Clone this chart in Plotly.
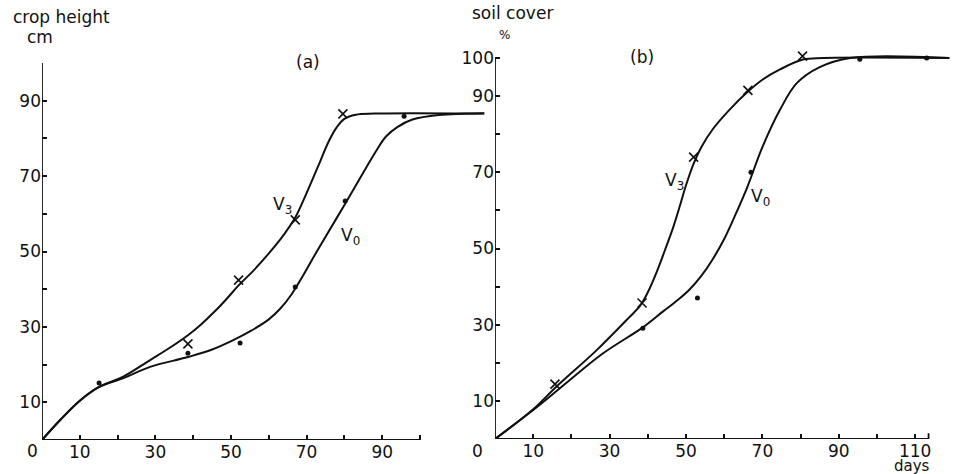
import plotly.graph_objects as go

W, H = 954, 474

# ---------------- data (days, value) ----------------
# panel (a) crop height, cm
A_V3_CURVE_DAY = [0, 5, 10, 15, 21.5, 28.6, 34, 38.6, 42, 46, 49, 52, 56, 60, 64, 67, 70, 73, 76, 78, 80, 83, 88, 117]
A_V3_CURVE_VAL = [0, 5.5, 10.4, 14, 16.8, 21.2, 24.6, 27.8, 30.6, 34.4, 37.6, 41, 45, 49.5, 54.5, 59, 65.5, 72.5, 79.5, 83, 85.2, 86.3, 86.6, 86.6]
A_V0_CURVE_DAY = [0, 5, 10, 15, 21.5, 28.6, 38.6, 45, 50.6, 55, 60, 63, 66, 69, 72.7, 80.4, 88.6, 91, 94, 98, 105, 117]
A_V0_CURVE_VAL = [0, 5.5, 10.4, 14, 16.4, 19.4, 22, 24, 26.5, 28.8, 32, 34.8, 38.6, 43.5, 50, 63, 77, 80.5, 83, 85, 86.2, 86.7]
A_V3_OBS_DAY = [38.6, 52, 67, 79.6]
A_V3_OBS_VAL = [25.5, 42.4, 58.4, 86.5]
A_V0_OBS_DAY = [15.1, 38.6, 52.4, 67, 80.2, 95.8]
A_V0_OBS_VAL = [15.1, 23, 25.7, 40.6, 63.4, 85.9]

# panel (b) soil cover, %
B_V3_CURVE_DAY = [0, 10, 15.7, 26.7, 35, 38, 40, 42.4, 44.5, 46.6, 48.4, 50, 52, 54, 57, 61, 66, 70, 74.6, 80.6, 86, 119]
B_V3_CURVE_VAL = [0, 7.8, 13.4, 23.4, 31.8, 35, 38.5, 44, 49.6, 55.4, 61.2, 66.6, 72.3, 76.6, 81.3, 86, 91, 94.3, 97, 99.6, 100, 100]
B_V0_CURVE_DAY = [0, 11, 19.6, 28.3, 38.7, 44, 48, 51, 54, 57, 60, 63, 66, 70, 74.6, 79, 85, 93, 119]
B_V0_CURVE_VAL = [0, 8.4, 15.5, 22.5, 29.3, 33.5, 36.6, 39.3, 42.8, 47.2, 52.5, 59, 66, 76.6, 86.4, 93.4, 97.6, 100, 100]
B_V3_OBS_DAY = [15.7, 38.5, 52, 66.2, 80.5]
B_V3_OBS_VAL = [14.4, 35.7, 74, 91.5, 100.5]
B_V0_OBS_DAY = [38.7, 53, 67, 95.5, 113]
B_V0_OBS_VAL = [29.1, 37, 70, 99.7, 100]

A_XTICKS = [10, 20, 30, 40, 50, 60, 70, 80, 90, 100]
A_XLABELS = ["10", "", "30", "", "50", "", "70", "", "90", ""]
A_YTICKS = [10, 20, 30, 40, 50, 60, 70, 80, 90]
A_YLABELS = ["10", "", "30", "", "50", "", "70", "", "90"]
B_XTICKS = [10, 20, 30, 40, 50, 60, 70, 80, 90, 100, 110]
B_XLABELS = ["10", "", "30", "", "50", "", "70", "", "90", "", "110"]
B_YTICKS = [10, 20, 30, 40, 50, 60, 70, 80, 90, 100]
B_YLABELS = ["10", "", "30", "", "50", "", "70", "", "90", "100"]

FONT = "DejaVu Sans"
BLACK = "#111111"


def px(x):
    return x / W


def py(y):
    return 1 - y / H


fig = go.Figure()

for xs, ys, xa, ya in [
    (A_V3_CURVE_DAY, A_V3_CURVE_VAL, "x", "y"),
    (A_V0_CURVE_DAY, A_V0_CURVE_VAL, "x", "y"),
    (B_V3_CURVE_DAY, B_V3_CURVE_VAL, "x2", "y2"),
    (B_V0_CURVE_DAY, B_V0_CURVE_VAL, "x2", "y2"),
]:
    fig.add_trace(go.Scatter(x=xs, y=ys, xaxis=xa, yaxis=ya, mode="lines",
                             line=dict(color=BLACK, width=2, shape="spline", smoothing=1.0),
                             showlegend=False, hoverinfo="skip"))

for xs, ys, xa, ya in [(A_V3_OBS_DAY, A_V3_OBS_VAL, "x", "y"), (B_V3_OBS_DAY, B_V3_OBS_VAL, "x2", "y2")]:
    fig.add_trace(go.Scatter(x=xs, y=ys, xaxis=xa, yaxis=ya, mode="markers",
                             marker=dict(symbol="x-thin", size=9, line=dict(color=BLACK, width=1.6)),
                             showlegend=False, cliponaxis=False))
for xs, ys, xa, ya in [(A_V0_OBS_DAY, A_V0_OBS_VAL, "x", "y"), (B_V0_OBS_DAY, B_V0_OBS_VAL, "x2", "y2")]:
    fig.add_trace(go.Scatter(x=xs, y=ys, xaxis=xa, yaxis=ya, mode="markers",
                             marker=dict(symbol="circle", size=5, color=BLACK),
                             showlegend=False, cliponaxis=False))

# axis geometry (pixels)
A_X0, A_PPD = 42, 3.78
A_Y0, A_PPU = 440, 3.77
B_X0, B_PPD = 495, 3.82
B_Y0, B_PPU = 439, 3.81
A_XR, B_XR, YR = 118, 119, 102

tick_common = dict(ticks="inside", ticklen=5, tickwidth=1.5, tickcolor=BLACK,
                   showgrid=False, zeroline=False, showline=False, automargin=False,
                   tickfont=dict(family=FONT, size=17, color=BLACK))

fig.update_layout(
    width=W, height=H, margin=dict(l=0, r=0, t=0, b=0, autoexpand=False),
    paper_bgcolor="white", plot_bgcolor="white", showlegend=False,
    xaxis=dict(domain=[px(A_X0), px(A_X0 + A_XR * A_PPD)], range=[0, A_XR],
               tickmode="array", tickvals=A_XTICKS, ticktext=A_XLABELS, anchor="y", **tick_common),
    yaxis=dict(domain=[py(A_Y0), py(A_Y0 - YR * A_PPU)], range=[0, YR],
               tickmode="array", tickvals=A_YTICKS, ticktext=A_YLABELS, anchor="x", **tick_common),
    xaxis2=dict(domain=[px(B_X0), px(B_X0 + B_XR * B_PPD)], range=[0, B_XR],
                tickmode="array", tickvals=B_XTICKS, ticktext=B_XLABELS, anchor="y2", **tick_common),
    yaxis2=dict(domain=[py(B_Y0), py(B_Y0 - YR * B_PPU)], range=[0, YR],
                tickmode="array", tickvals=B_YTICKS, ticktext=B_YLABELS, anchor="x2", **tick_common),
)

# axis lines
axis_line = dict(color=BLACK, width=1.8)
fig.add_shape(type="line", xref="x", yref="y", x0=0, y0=0, x1=0, y1=100, line=axis_line)
fig.add_shape(type="line", xref="x", yref="y", x0=0, y0=0, x1=100, y1=0, line=axis_line)
fig.add_shape(type="line", xref="x2", yref="y2", x0=0, y0=0, x1=0, y1=100, line=axis_line)
fig.add_shape(type="line", xref="x2", yref="y2", x0=0, y0=0, x1=113.5, y1=0, line=axis_line)
fig.add_shape(type="line", xref="x2", yref="y2", x0=113.5, y0=0, x1=113.5, y1=1.5, line=axis_line)


def ann(text, x, y, size=17, xref="paper", yref="paper"):
    fig.add_annotation(text=text, x=x, y=y, xref=xref, yref=yref, showarrow=False, borderpad=0,
                       font=dict(family=FONT, size=size, color=BLACK), xanchor="center", yanchor="middle")


ann("crop height", px(61), py(17))
ann("cm", px(40), py(37))
ann("(a)", px(308), py(62))
ann("soil cover", px(512), py(13))
ann("%", px(505), py(35), size=12)
ann("(b)", px(642), py(57))
ann("days", px(912), py(466), size=15)
ann("0", px(32), py(451))
ann("0", px(478), py(451))

ann("V<sub>3</sub>", 63.5, 62.3, size=17, xref="x", yref="y")
ann("V<sub>0</sub>", 81.5, 54, size=17, xref="x", yref="y")
ann("V<sub>3</sub>", 46.9, 67.7, size=17, xref="x2", yref="y2")
ann("V<sub>0</sub>", 69.6, 63.3, size=17, xref="x2", yref="y2")

fig.write_html("out.html", config={"displayModeBar": False},
               post_script="document.body.style.margin='0';document.body.style.overflow='hidden';")
